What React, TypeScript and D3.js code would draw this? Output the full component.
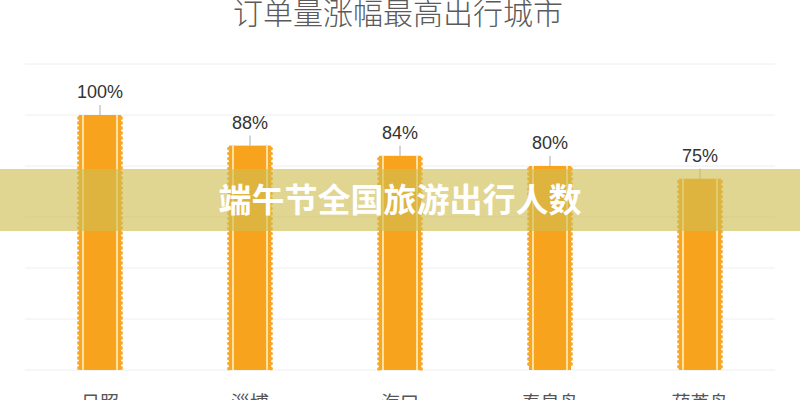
import * as d3 from 'd3';
import { useEffect, useRef } from 'react';

const width = 800;
const height = 400;

const cities = ['日照', '淄博', '海口', '秦皇岛', '葫芦岛'];
const growth = [100, 88, 84, 80, 75];
const gridTicks = [0, 20, 40, 60, 80, 100, 120];
const chartTitle = '订单量涨幅最高出行城市';
const bannerText = '端午节全国旅游出行人数';

export default function App() {
  const containerRef = useRef<HTMLDivElement>(null);

  useEffect(() => {
    containerRef.current.innerHTML = '';

    const x = d3
      .scaleBand()
      .domain(cities)
      .range([25, 775])
      .paddingInner(0.693)
      .paddingOuter(0.3465);
    const y = d3.scaleLinear().domain([0, 120]).range([370, 64]);

    const svg = d3
      .select(containerRef.current)
      .append('svg')
      .attr('width', width)
      .attr('height', height)
      .attr('viewBox', [0, 0, width, height])
      .style('position', 'absolute')
      .style('left', 0)
      .style('top', 0)
      .style('background', '#fff');

    // title, its top is cut off by the frame
    svg
      .append('text')
      .attr('x', 398)
      .attr('y', 24)
      .attr('text-anchor', 'middle')
      .attr('font-family', '"Noto Sans CJK SC", sans-serif')
      .attr('font-size', 30)
      .attr('font-weight', 300)
      .attr('fill', '#5a5a5a')
      .text(chartTitle);

    // grid lines
    svg
      .append('g')
      .selectAll('line')
      .data(gridTicks)
      .join('line')
      .attr('x1', 25)
      .attr('x2', 775)
      .attr('y1', (d) => y(d))
      .attr('y2', (d) => y(d))
      .attr('stroke', '#eeeeee')
      .attr('stroke-width', 1);

    const bw = x.bandwidth();
    const bars = svg
      .append('g')
      .selectAll('g')
      .data(cities.map((c, i) => ({ city: c, value: growth[i] })))
      .join('g')
      .attr('transform', (d) => `translate(${x(d.city)},0)`);

    // main bar body
    bars
      .append('rect')
      .attr('x', 2)
      .attr('y', (d) => y(d.value))
      .attr('width', bw - 4)
      .attr('height', (d) => y(0) - y(d.value))
      .attr('fill', '#f8a31e');

    // scalloped edges
    bars.each(function (d) {
      const g = d3.select(this);
      const top = y(d.value);
      const bumps = d3.range(top + 3, y(0) - 1, 5);
      [2, bw - 2].forEach((cx) => {
        g.append('g')
          .selectAll('circle')
          .data(bumps)
          .join('circle')
          .attr('cx', cx)
          .attr('cy', (v) => v)
          .attr('r', 1.9)
          .attr('fill', '#f8a92c');
      });
    });

    // light stripes near both edges
    [5, bw - 7].forEach((sx) => {
      bars
        .append('rect')
        .attr('x', sx)
        .attr('y', (d) => y(d.value))
        .attr('width', 2)
        .attr('height', (d) => y(0) - y(d.value))
        .attr('fill', '#ffe3a3');
    });

    // leader lines
    bars
      .append('line')
      .attr('x1', bw / 2)
      .attr('x2', bw / 2)
      .attr('y1', (d) => y(d.value) - 10)
      .attr('y2', (d) => y(d.value))
      .attr('stroke', '#aaaaaa')
      .attr('stroke-width', 1);

    // value labels
    bars
      .append('text')
      .attr('x', bw / 2)
      .attr('y', (d) => y(d.value) - 17)
      .attr('text-anchor', 'middle')
      .attr('font-family', '"Liberation Sans", Arial, sans-serif')
      .attr('font-size', 18)
      .attr('fill', '#333')
      .text((d) => `${d.value}%`);

    // category labels
    bars
      .append('text')
      .attr('x', bw / 2)
      .attr('y', 410)
      .attr('text-anchor', 'middle')
      .attr('font-family', '"Noto Sans CJK SC", sans-serif')
      .attr('font-size', 19)
      .attr('fill', '#555')
      .text((d) => d.city);

    // translucent banner over the chart
    svg
      .append('rect')
      .attr('x', 0)
      .attr('y', 169)
      .attr('width', width)
      .attr('height', 62)
      .attr('fill', 'rgb(206, 189, 80)')
      .attr('fill-opacity', 0.63);

    svg
      .append('text')
      .attr('x', 400)
      .attr('y', 212)
      .attr('text-anchor', 'middle')
      .attr('font-family', '"Noto Sans CJK SC", sans-serif')
      .attr('font-size', 33)
      .attr('font-weight', 700)
      .attr('fill', '#ffffff')
      .text(bannerText);
  }, []);

  return <div ref={containerRef}></div>;
}
